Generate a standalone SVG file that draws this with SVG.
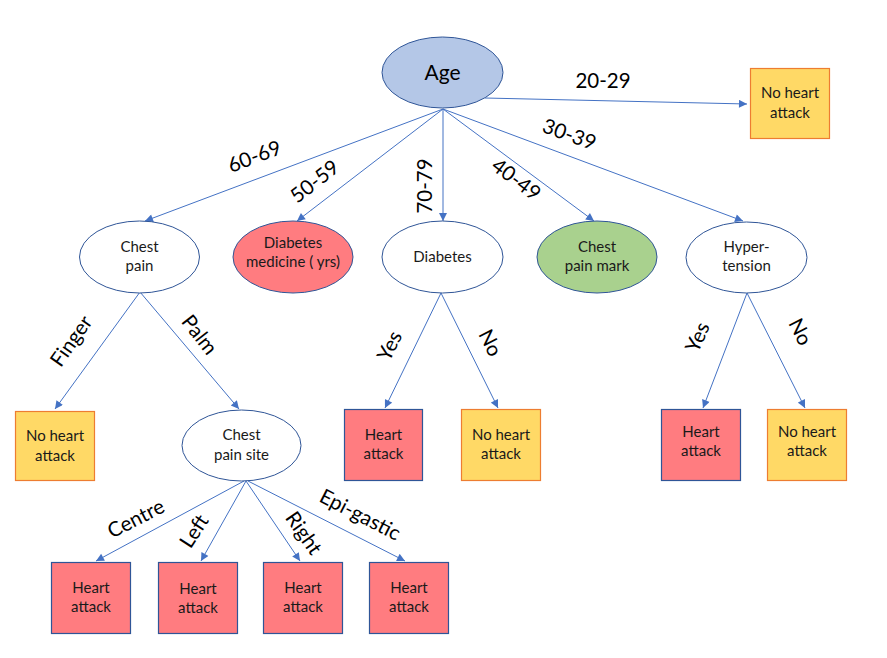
<svg xmlns="http://www.w3.org/2000/svg" width="887" height="658" viewBox="0 0 887 658">
  <style>
    .lbl { font-family: Lato, "Open Sans", "Liberation Sans", sans-serif; font-size: 20.5px; fill: #000; text-anchor: middle; }
    .txt { font-family: Lato, "Open Sans", "Liberation Sans", sans-serif; font-size: 15px; fill: #1a1a1a; text-anchor: middle; }
    .age { font-family: Lato, "Open Sans", "Liberation Sans", sans-serif; font-size: 21px; fill: #000; text-anchor: middle; }
    .plain { fill: #ffffff; stroke: #2f5597; stroke-width: 1; }
    .root { fill: #b4c7e7; stroke: #2f5597; stroke-width: 1; }
    .red { fill: #ff7c80; stroke: #2f5597; stroke-width: 1.2; }
    .green { fill: #a9d18e; stroke: #2f5597; stroke-width: 1; }
    .yellow { fill: #ffd966; stroke: #ed7d31; stroke-width: 1.2; }
    .edge { fill: none; stroke: #4472c4; stroke-width: 1; marker-end: url(#arrow); }
  </style>
  <defs>
    <marker id="arrow" viewBox="0 0 10 10" refX="10" refY="5" markerWidth="10" markerHeight="8" markerUnits="userSpaceOnUse" orient="auto">
      <path d="M0,0 L10,5 L0,10 z" fill="#4472c4"/>
    </marker>
  </defs>
  <rect width="887" height="658" fill="#ffffff"/>

  <!-- connectors -->
  <g id="connectors">
    <line class="edge" x1="485" y1="98" x2="747" y2="104"/>
    <line class="edge" x1="443" y1="109" x2="145" y2="221"/>
    <line class="edge" x1="443" y1="109" x2="297" y2="221"/>
    <line class="edge" x1="443" y1="109" x2="443" y2="221"/>
    <line class="edge" x1="443" y1="109" x2="594" y2="221"/>
    <line class="edge" x1="443" y1="109" x2="743" y2="221"/>
    <line class="edge" x1="140" y1="292" x2="55" y2="409"/>
    <line class="edge" x1="140" y1="292" x2="239" y2="409"/>
    <line class="edge" x1="441" y1="293" x2="385" y2="408"/>
    <line class="edge" x1="441" y1="293" x2="498" y2="408"/>
    <line class="edge" x1="747" y1="293" x2="703" y2="408"/>
    <line class="edge" x1="747" y1="293" x2="805" y2="408"/>
    <line class="edge" x1="244" y1="481" x2="96" y2="561"/>
    <line class="edge" x1="246" y1="481" x2="201" y2="561"/>
    <line class="edge" x1="246" y1="481" x2="300" y2="561"/>
    <line class="edge" x1="248" y1="481" x2="405" y2="561"/>

    <!-- branch labels -->
    <text class="lbl" transform="translate(603,88)">20-29</text>
    <text class="lbl" transform="translate(257,163) rotate(-21)">60-69</text>
    <text class="lbl" transform="translate(319,187) rotate(-38)">50-59</text>
    <text class="lbl" transform="translate(432,186) rotate(-90)">70-79</text>
    <text class="lbl" transform="translate(512,185) rotate(37)">40-49</text>
    <text class="lbl" transform="translate(567,141) rotate(20)">30-39</text>
    <text class="lbl" transform="translate(77,345) rotate(-55)">Finger</text>
    <text class="lbl" transform="translate(194,339) rotate(52)">Palm</text>
    <text class="lbl" transform="translate(396,349) rotate(-64)">Yes</text>
    <text class="lbl" transform="translate(484,346) rotate(63)">No</text>
    <text class="lbl" transform="translate(704,340) rotate(-66)">Yes</text>
    <text class="lbl" transform="translate(794,335) rotate(63)">No</text>
    <text class="lbl" transform="translate(139,525) rotate(-27)">Centre</text>
    <text class="lbl" transform="translate(200,535) rotate(-57)">Left</text>
    <text class="lbl" transform="translate(298,537) rotate(55)">Right</text>
    <text class="lbl" transform="translate(357,521) rotate(27)">Epi-gastic</text>
  </g>

  <!-- root -->
  <g id="age">
    <ellipse class="root" cx="442.5" cy="72.5" rx="60.5" ry="35.5"/>
    <text class="age" x="442.5" y="80">Age</text>
  </g>

  <!-- first level -->
  <g id="no-heart-attack-1">
    <rect class="yellow" x="750.5" y="68.5" width="79" height="70"/>
    <text class="txt" x="790" y="98">No heart</text>
    <text class="txt" x="790" y="118">attack</text>
  </g>
  <g id="chest-pain">
    <ellipse class="plain" cx="139.5" cy="257" rx="60" ry="36"/>
    <text class="txt" x="139.5" y="252">Chest</text>
    <text class="txt" x="139.5" y="271">pain</text>
  </g>
  <g id="diabetes-medicine">
    <ellipse class="red" cx="293" cy="257" rx="60" ry="36" style="stroke-width:1"/>
    <text class="txt" x="293" y="248">Diabetes</text>
    <text class="txt" x="293" y="267">medicine ( yrs)</text>
  </g>
  <g id="diabetes">
    <ellipse class="plain" cx="442.5" cy="257" rx="60.5" ry="36"/>
    <text class="txt" x="442.5" y="262">Diabetes</text>
  </g>
  <g id="chest-pain-mark">
    <ellipse class="green" cx="597" cy="257" rx="60" ry="36"/>
    <text class="txt" x="597" y="252">Chest</text>
    <text class="txt" x="597" y="271">pain mark</text>
  </g>
  <g id="hypertension">
    <ellipse class="plain" cx="746.5" cy="257.5" rx="60.5" ry="35.5"/>
    <text class="txt" x="746.5" y="252">Hyper-</text>
    <text class="txt" x="746.5" y="271">tension</text>
  </g>

  <!-- second level -->
  <g id="no-heart-attack-2">
    <rect class="yellow" x="15.5" y="411.5" width="79" height="69"/>
    <text class="txt" x="55" y="441">No heart</text>
    <text class="txt" x="55" y="461">attack</text>
  </g>
  <g id="chest-pain-site">
    <ellipse class="plain" cx="241.5" cy="445.5" rx="59.5" ry="35.5"/>
    <text class="txt" x="241.5" y="440">Chest</text>
    <text class="txt" x="241.5" y="460">pain site</text>
  </g>
  <g id="heart-attack-1">
    <rect class="red" x="344.5" y="409.5" width="78" height="71"/>
    <text class="txt" x="383.5" y="440">Heart</text>
    <text class="txt" x="383.5" y="459">attack</text>
  </g>
  <g id="no-heart-attack-3">
    <rect class="yellow" x="461.5" y="409.5" width="79" height="71"/>
    <text class="txt" x="501" y="440">No heart</text>
    <text class="txt" x="501" y="459">attack</text>
  </g>
  <g id="heart-attack-2">
    <rect class="red" x="661.5" y="409.5" width="79" height="71"/>
    <text class="txt" x="701" y="437">Heart</text>
    <text class="txt" x="701" y="456">attack</text>
  </g>
  <g id="no-heart-attack-4">
    <rect class="yellow" x="767.5" y="409.5" width="79" height="71"/>
    <text class="txt" x="807" y="437">No heart</text>
    <text class="txt" x="807" y="456">attack</text>
  </g>

  <!-- third level -->
  <g id="heart-attack-centre">
    <rect class="red" x="51.5" y="562.5" width="79" height="71"/>
    <text class="txt" x="91" y="593">Heart</text>
    <text class="txt" x="91" y="612">attack</text>
  </g>
  <g id="heart-attack-left">
    <rect class="red" x="158.5" y="562.5" width="79" height="71"/>
    <text class="txt" x="198" y="594">Heart</text>
    <text class="txt" x="198" y="613">attack</text>
  </g>
  <g id="heart-attack-right">
    <rect class="red" x="263.5" y="562.5" width="79" height="71"/>
    <text class="txt" x="303" y="593">Heart</text>
    <text class="txt" x="303" y="612">attack</text>
  </g>
  <g id="heart-attack-epigastric">
    <rect class="red" x="369.5" y="562.5" width="79" height="71"/>
    <text class="txt" x="409" y="593">Heart</text>
    <text class="txt" x="409" y="612">attack</text>
  </g>
</svg>
